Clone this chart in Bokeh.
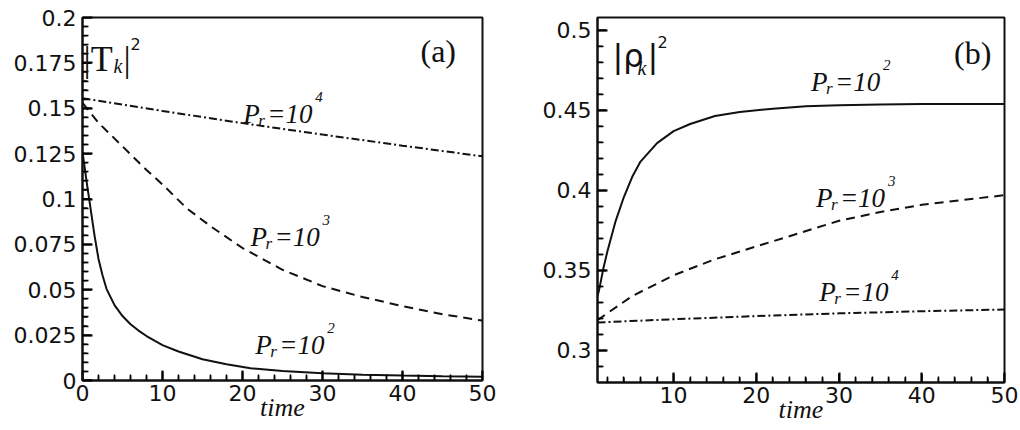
import math
from bokeh.plotting import figure
from bokeh.layouts import row
from bokeh.models import Range1d, FixedTicker, Label
from bokeh.embed import file_html
from bokeh.resources import INLINE

# ---- panel (a): |T_k|^2 against time ----
t_a_pr2 = [0, 0.5, 1, 1.5, 2, 2.5, 3, 4, 5, 6, 7, 8, 10, 12, 15, 18, 21, 25, 30, 35, 40, 45, 50]
T_pr2 = [0.126, 0.110, 0.095, 0.080, 0.067, 0.058, 0.0505, 0.0415, 0.0355, 0.031, 0.0275, 0.0245,
         0.0195, 0.0160, 0.0117, 0.0090, 0.0068, 0.0052, 0.0040, 0.0032, 0.0027, 0.0023, 0.0020]
t_a_pr3 = [0, 2, 5, 8, 10, 13, 16, 20, 25, 30, 35, 40, 45, 50]
T_pr3 = [0.153, 0.142, 0.129, 0.116, 0.108, 0.095, 0.085, 0.073, 0.061, 0.052, 0.046, 0.041, 0.0365, 0.033]
t_a_pr4 = [0, 10, 20, 30, 40, 50]
T_pr4 = [0.1555, 0.1485, 0.1418, 0.1355, 0.1294, 0.1235]

# ---- panel (b): |rho_k|^2 against time ----
t_b_pr2 = [0.8, 1, 1.5, 2, 3, 4, 5, 6, 8, 10, 12, 15, 18, 22, 26, 30, 35, 40, 45, 50]
R_pr2 = [0.334, 0.338, 0.351, 0.362, 0.381, 0.396, 0.4085, 0.418, 0.4295, 0.437, 0.4415, 0.4465,
         0.449, 0.451, 0.4525, 0.4532, 0.4537, 0.454, 0.454, 0.454]
t_b_pr3 = [0.8, 5, 10, 15, 20, 25, 30, 35, 40, 45, 50]
R_pr3 = [0.319, 0.334, 0.347, 0.357, 0.365, 0.373, 0.381, 0.3865, 0.391, 0.394, 0.397]
t_b_pr4 = [0.8, 10, 20, 30, 40, 50]
R_pr4 = [0.3175, 0.3195, 0.3215, 0.3232, 0.3245, 0.3256]

# ticks and their labels
xticks_a = [0, 10, 20, 30, 40, 50]
xticks_b = [10, 20, 30, 40, 50]
xminor = [float(v) for v in range(2, 50, 2) if v % 10]
yticks_a = [0, 0.025, 0.05, 0.075, 0.1, 0.125, 0.15, 0.175, 0.2]
ylabels_a = ["0", "0.025", "0.05", "0.075", "0.1", "0.125", "0.15", "0.175", "0.2"]
yminor_a = [round(0.005 * i, 3) for i in range(1, 40) if i % 5]
yticks_b = [0.3, 0.35, 0.4, 0.45, 0.5]
ylabels_b = ["0.3", "0.35", "0.4", "0.45", "0.5"]
yminor_b = [round(0.01 * i, 2) for i in range(29, 51) if i % 5]

INK = "#111111"
TICK_FONT = "DejaVu Sans"
SERIF = "Liberation Serif"


def style_axes(p, xticks, xmin, yticks, ylabels, ymin):
    p.xaxis.ticker = FixedTicker(ticks=xticks, minor_ticks=xmin)
    p.yaxis.ticker = FixedTicker(ticks=yticks, minor_ticks=ymin)
    p.yaxis.major_label_overrides = dict(zip(yticks, ylabels))
    p.xaxis.major_label_overrides = {v: str(v) for v in xticks}
    p.axis.axis_line_color = INK
    p.axis.axis_line_width = 2
    p.axis.major_tick_in = 10
    p.axis.major_tick_out = 0
    p.axis.minor_tick_in = 6
    p.axis.minor_tick_out = 0
    p.axis.major_tick_line_color = "#000000"
    p.axis.major_tick_line_width = 2
    p.axis.minor_tick_line_color = "#000000"
    p.axis.minor_tick_line_width = 1.5
    p.axis.major_label_text_font = TICK_FONT
    p.axis.major_label_text_font_size = "22px"
    p.axis.major_label_text_color = INK
    p.yaxis.major_label_standoff = 6
    p.xaxis.major_label_standoff = 4
    p.xaxis.axis_label = "time"
    p.xaxis.axis_label_text_font = SERIF
    p.xaxis.axis_label_text_font_style = "italic"
    p.xaxis.axis_label_text_font_size = "26px"
    p.xaxis.axis_label_text_color = INK
    p.xaxis.axis_label_standoff = -11
    p.grid.visible = False
    p.outline_line_color = INK
    p.outline_line_width = 2
    p.background_fill_color = "white"
    p.border_fill_color = "white"


def inward_ticks(p, x0, y0, xmajor, xmin, ymajor, ymin, dx_major, dy_major):
    # short tick segments pointing into the frame from the bottom and left edges
    p.segment(x0=xmajor, y0=[y0] * len(xmajor), x1=xmajor, y1=[y0 + dy_major] * len(xmajor),
              line_color="#000000", line_width=2)
    p.segment(x0=xmin, y0=[y0] * len(xmin), x1=xmin, y1=[y0 + dy_major * 0.55] * len(xmin),
              line_color="#000000", line_width=1.5)
    p.segment(x0=[x0] * len(ymajor), y0=ymajor, x1=[x0 + dx_major] * len(ymajor), y1=ymajor,
              line_color="#000000", line_width=2)
    p.segment(x0=[x0] * len(ymin), y0=ymin, x1=[x0 + dx_major * 0.55] * len(ymin), y1=ymin,
              line_color="#000000", line_width=1.5)


def text(p, x, y, s, size, font=SERIF, style="normal", dx=0, dy=0):
    p.add_layout(Label(x=x, y=y, text=s, x_offset=dx, y_offset=dy,
                       text_font=font, text_font_style=style,
                       text_font_size=f"{size}px", text_color=INK,
                       text_baseline="alphabetic", text_align="left"))


def pr_label(p, x, y, power):
    text(p, x, y, "P", 27, style="italic")
    text(p, x, y, "r", 17, style="italic", dx=15, dy=-6)
    text(p, x, y, "=10", 27, style="italic", dx=24)
    text(p, x, y, power, 15, style="italic", dx=72, dy=17)


# panel (a)
pa = figure(frame_width=400, frame_height=363, min_border_left=82, min_border_right=40,
            min_border_top=16, min_border_bottom=51, x_range=Range1d(0, 50),
            y_range=Range1d(0, 0.2), output_backend="svg", toolbar_location=None)
style_axes(pa, xticks_a, xminor, yticks_a, ylabels_a, yminor_a)
# 9 px ticks: 50 units over 400 px, 0.2 units over 363 px
inward_ticks(pa, 0, 0, xticks_a, xminor, yticks_a, yminor_a, 50 * 9 / 400, 0.2 * 9 / 363)
pa.line(t_a_pr2, T_pr2, line_color=INK, line_width=2)
pa.line(t_a_pr3, T_pr3, line_color=INK, line_width=2, line_dash="9 6")
pa.line(t_a_pr4, T_pr4, line_color=INK, line_width=2, line_dash="8 3 2 3")

pr_label(pa, 20.1, 0.1466, "4")
pr_label(pa, 21.0, 0.0788, "3")
pr_label(pa, 21.6, 0.0193, "2")
text(pa, 42.25, 0.1813, "(a)", 32)
text(pa, 0.12, 0.1774, "|T", 36)
text(pa, 0.12, 0.1774, "k", 20, style="italic", dx=30, dy=-7)
text(pa, 0.12, 0.1774, "|", 36, dx=40)
text(pa, 0.12, 0.1774, "2", 16, font=TICK_FONT, dx=47, dy=15)

# panel (b)
pb = figure(frame_width=407, frame_height=365, min_border_left=75, min_border_right=16,
            min_border_top=17, min_border_bottom=48, x_range=Range1d(0.8, 50),
            y_range=Range1d(0.28, 0.508), output_backend="svg", toolbar_location=None)
style_axes(pb, xticks_b, xminor, yticks_b, ylabels_b, yminor_b)
inward_ticks(pb, 0.8, 0.28, xticks_b, xminor, yticks_b, yminor_b,
             49.2 * 9 / 407, 0.228 * 9 / 365)
pb.line(t_b_pr2, R_pr2, line_color=INK, line_width=2)
pb.line(t_b_pr3, R_pr3, line_color=INK, line_width=2, line_dash="9 6")
pb.line(t_b_pr4, R_pr4, line_color=INK, line_width=2, line_dash="8 3 2 3")

pr_label(pb, 26.6, 0.4675, "2")
pr_label(pb, 27.2, 0.395, "3")
pr_label(pb, 27.6, 0.3363, "4")
text(pb, 43.9, 0.486, "(b)", 32)
text(pb, 2.6, 0.4838, "|\u03c1", 32, font=TICK_FONT)
text(pb, 2.6, 0.4838, "k", 20, style="italic", dx=25, dy=-12)
text(pb, 2.6, 0.4838, "|", 32, font=TICK_FONT, dx=35)
text(pb, 2.6, 0.4838, "2", 16, font=TICK_FONT, dx=45, dy=14)

layout = row(pa, pb, spacing=0)
open("out.html", "w").write(file_html(layout, INLINE))
